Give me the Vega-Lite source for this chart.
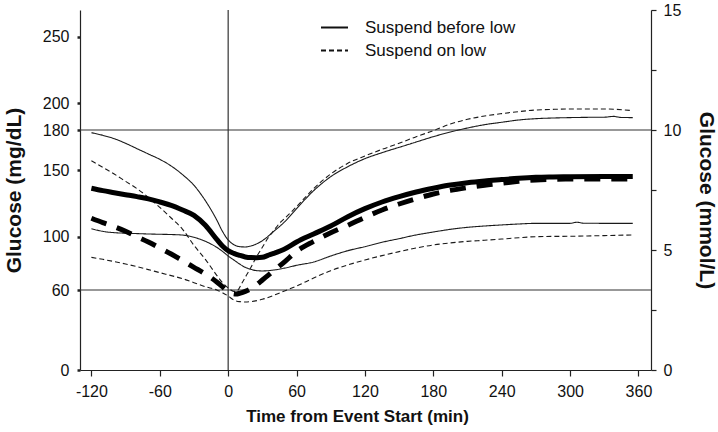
{
  "$schema": "https://vega.github.io/schema/vega-lite/v6.json",
  "width": 571,
  "height": 360,
  "autosize": {"type": "none"},
  "padding": {"left": 80, "top": 10, "right": 67, "bottom": 62},
  "background": "white",
  "config": {
    "font": "Liberation Sans",
    "view": {"stroke": null},
    "axis": {"grid": false, "domainColor": "#222", "tickColor": "#222", "labelColor": "#111", "titleColor": "#111", "labelFont": "Liberation Sans", "titleFont": "Liberation Sans", "domainWidth": 1.2}
  },
  "datasets": {
    "glu": [
      {"g": "Suspend before low", "s": "upper", "t": -120, "v": 178},
      {"g": "Suspend before low", "s": "upper", "t": -110, "v": 176},
      {"g": "Suspend before low", "s": "upper", "t": -100, "v": 173.5},
      {"g": "Suspend before low", "s": "upper", "t": -90, "v": 170},
      {"g": "Suspend before low", "s": "upper", "t": -80, "v": 166},
      {"g": "Suspend before low", "s": "upper", "t": -70, "v": 162},
      {"g": "Suspend before low", "s": "upper", "t": -60, "v": 158},
      {"g": "Suspend before low", "s": "upper", "t": -50, "v": 153},
      {"g": "Suspend before low", "s": "upper", "t": -40, "v": 146.5},
      {"g": "Suspend before low", "s": "upper", "t": -30, "v": 138.5},
      {"g": "Suspend before low", "s": "upper", "t": -20, "v": 127},
      {"g": "Suspend before low", "s": "upper", "t": -10, "v": 112.5},
      {"g": "Suspend before low", "s": "upper", "t": -5, "v": 104},
      {"g": "Suspend before low", "s": "upper", "t": 0, "v": 97.5},
      {"g": "Suspend before low", "s": "upper", "t": 5, "v": 94},
      {"g": "Suspend before low", "s": "upper", "t": 10, "v": 92.5},
      {"g": "Suspend before low", "s": "upper", "t": 15, "v": 92.3},
      {"g": "Suspend before low", "s": "upper", "t": 20, "v": 93},
      {"g": "Suspend before low", "s": "upper", "t": 30, "v": 97},
      {"g": "Suspend before low", "s": "upper", "t": 40, "v": 104},
      {"g": "Suspend before low", "s": "upper", "t": 50, "v": 111.5},
      {"g": "Suspend before low", "s": "upper", "t": 60, "v": 121},
      {"g": "Suspend before low", "s": "upper", "t": 75, "v": 134.5},
      {"g": "Suspend before low", "s": "upper", "t": 90, "v": 145},
      {"g": "Suspend before low", "s": "upper", "t": 105, "v": 152.5},
      {"g": "Suspend before low", "s": "upper", "t": 120, "v": 158.5},
      {"g": "Suspend before low", "s": "upper", "t": 135, "v": 163},
      {"g": "Suspend before low", "s": "upper", "t": 150, "v": 167},
      {"g": "Suspend before low", "s": "upper", "t": 165, "v": 171},
      {"g": "Suspend before low", "s": "upper", "t": 180, "v": 175},
      {"g": "Suspend before low", "s": "upper", "t": 195, "v": 178.5},
      {"g": "Suspend before low", "s": "upper", "t": 210, "v": 181.5},
      {"g": "Suspend before low", "s": "upper", "t": 225, "v": 184},
      {"g": "Suspend before low", "s": "upper", "t": 240, "v": 185.8},
      {"g": "Suspend before low", "s": "upper", "t": 255, "v": 187.5},
      {"g": "Suspend before low", "s": "upper", "t": 270, "v": 188.5},
      {"g": "Suspend before low", "s": "upper", "t": 285, "v": 189},
      {"g": "Suspend before low", "s": "upper", "t": 300, "v": 189.3},
      {"g": "Suspend before low", "s": "upper", "t": 315, "v": 189.5},
      {"g": "Suspend before low", "s": "upper", "t": 330, "v": 189.6},
      {"g": "Suspend before low", "s": "upper", "t": 338, "v": 190.2},
      {"g": "Suspend before low", "s": "upper", "t": 345, "v": 189.4},
      {"g": "Suspend before low", "s": "upper", "t": 355, "v": 189.3},

      {"g": "Suspend before low", "s": "lower", "t": -120, "v": 106},
      {"g": "Suspend before low", "s": "lower", "t": -110, "v": 104},
      {"g": "Suspend before low", "s": "lower", "t": -100, "v": 103},
      {"g": "Suspend before low", "s": "lower", "t": -90, "v": 102.6},
      {"g": "Suspend before low", "s": "lower", "t": -80, "v": 102.3},
      {"g": "Suspend before low", "s": "lower", "t": -70, "v": 102},
      {"g": "Suspend before low", "s": "lower", "t": -60, "v": 101.8},
      {"g": "Suspend before low", "s": "lower", "t": -50, "v": 101.6},
      {"g": "Suspend before low", "s": "lower", "t": -40, "v": 101.2},
      {"g": "Suspend before low", "s": "lower", "t": -30, "v": 99.5},
      {"g": "Suspend before low", "s": "lower", "t": -20, "v": 96.5},
      {"g": "Suspend before low", "s": "lower", "t": -10, "v": 92},
      {"g": "Suspend before low", "s": "lower", "t": -5, "v": 89},
      {"g": "Suspend before low", "s": "lower", "t": 0, "v": 85.5},
      {"g": "Suspend before low", "s": "lower", "t": 5, "v": 82.5},
      {"g": "Suspend before low", "s": "lower", "t": 10, "v": 79.5},
      {"g": "Suspend before low", "s": "lower", "t": 15, "v": 77},
      {"g": "Suspend before low", "s": "lower", "t": 20, "v": 75.5},
      {"g": "Suspend before low", "s": "lower", "t": 25, "v": 74.5},
      {"g": "Suspend before low", "s": "lower", "t": 30, "v": 74.3},
      {"g": "Suspend before low", "s": "lower", "t": 40, "v": 75},
      {"g": "Suspend before low", "s": "lower", "t": 50, "v": 76.5},
      {"g": "Suspend before low", "s": "lower", "t": 60, "v": 78.5},
      {"g": "Suspend before low", "s": "lower", "t": 75, "v": 81},
      {"g": "Suspend before low", "s": "lower", "t": 90, "v": 85.5},
      {"g": "Suspend before low", "s": "lower", "t": 105, "v": 89.5},
      {"g": "Suspend before low", "s": "lower", "t": 120, "v": 92.5},
      {"g": "Suspend before low", "s": "lower", "t": 135, "v": 95.8},
      {"g": "Suspend before low", "s": "lower", "t": 150, "v": 98.5},
      {"g": "Suspend before low", "s": "lower", "t": 165, "v": 101.3},
      {"g": "Suspend before low", "s": "lower", "t": 180, "v": 103.5},
      {"g": "Suspend before low", "s": "lower", "t": 195, "v": 105.5},
      {"g": "Suspend before low", "s": "lower", "t": 210, "v": 107},
      {"g": "Suspend before low", "s": "lower", "t": 225, "v": 108},
      {"g": "Suspend before low", "s": "lower", "t": 240, "v": 108.8},
      {"g": "Suspend before low", "s": "lower", "t": 255, "v": 109.5},
      {"g": "Suspend before low", "s": "lower", "t": 270, "v": 110},
      {"g": "Suspend before low", "s": "lower", "t": 285, "v": 110},
      {"g": "Suspend before low", "s": "lower", "t": 300, "v": 110},
      {"g": "Suspend before low", "s": "lower", "t": 306, "v": 110.8},
      {"g": "Suspend before low", "s": "lower", "t": 312, "v": 110.1},
      {"g": "Suspend before low", "s": "lower", "t": 330, "v": 110},
      {"g": "Suspend before low", "s": "lower", "t": 355, "v": 110},

      {"g": "Suspend before low", "s": "mean", "t": -120, "v": 136.3},
      {"g": "Suspend before low", "s": "mean", "t": -110, "v": 134.5},
      {"g": "Suspend before low", "s": "mean", "t": -100, "v": 133},
      {"g": "Suspend before low", "s": "mean", "t": -90, "v": 131.5},
      {"g": "Suspend before low", "s": "mean", "t": -80, "v": 130},
      {"g": "Suspend before low", "s": "mean", "t": -70, "v": 128.3},
      {"g": "Suspend before low", "s": "mean", "t": -60, "v": 126},
      {"g": "Suspend before low", "s": "mean", "t": -50, "v": 123.5},
      {"g": "Suspend before low", "s": "mean", "t": -40, "v": 120},
      {"g": "Suspend before low", "s": "mean", "t": -30, "v": 116},
      {"g": "Suspend before low", "s": "mean", "t": -20, "v": 108.5},
      {"g": "Suspend before low", "s": "mean", "t": -10, "v": 98},
      {"g": "Suspend before low", "s": "mean", "t": -5, "v": 93},
      {"g": "Suspend before low", "s": "mean", "t": 0, "v": 89.5},
      {"g": "Suspend before low", "s": "mean", "t": 5, "v": 87.5},
      {"g": "Suspend before low", "s": "mean", "t": 10, "v": 86},
      {"g": "Suspend before low", "s": "mean", "t": 15, "v": 84.8},
      {"g": "Suspend before low", "s": "mean", "t": 20, "v": 84.3},
      {"g": "Suspend before low", "s": "mean", "t": 25, "v": 84.2},
      {"g": "Suspend before low", "s": "mean", "t": 30, "v": 84.5},
      {"g": "Suspend before low", "s": "mean", "t": 35, "v": 86},
      {"g": "Suspend before low", "s": "mean", "t": 40, "v": 87.5},
      {"g": "Suspend before low", "s": "mean", "t": 50, "v": 91},
      {"g": "Suspend before low", "s": "mean", "t": 60, "v": 96},
      {"g": "Suspend before low", "s": "mean", "t": 75, "v": 102},
      {"g": "Suspend before low", "s": "mean", "t": 90, "v": 108},
      {"g": "Suspend before low", "s": "mean", "t": 105, "v": 115},
      {"g": "Suspend before low", "s": "mean", "t": 120, "v": 121},
      {"g": "Suspend before low", "s": "mean", "t": 135, "v": 126},
      {"g": "Suspend before low", "s": "mean", "t": 150, "v": 130},
      {"g": "Suspend before low", "s": "mean", "t": 165, "v": 133.5},
      {"g": "Suspend before low", "s": "mean", "t": 180, "v": 136.3},
      {"g": "Suspend before low", "s": "mean", "t": 195, "v": 138.7},
      {"g": "Suspend before low", "s": "mean", "t": 210, "v": 140.5},
      {"g": "Suspend before low", "s": "mean", "t": 225, "v": 141.8},
      {"g": "Suspend before low", "s": "mean", "t": 240, "v": 142.8},
      {"g": "Suspend before low", "s": "mean", "t": 255, "v": 143.8},
      {"g": "Suspend before low", "s": "mean", "t": 270, "v": 144.5},
      {"g": "Suspend before low", "s": "mean", "t": 285, "v": 144.8},
      {"g": "Suspend before low", "s": "mean", "t": 300, "v": 145},
      {"g": "Suspend before low", "s": "mean", "t": 330, "v": 145.2},
      {"g": "Suspend before low", "s": "mean", "t": 355, "v": 145.2},

      {"g": "Suspend on low", "s": "upper", "t": -120, "v": 157},
      {"g": "Suspend on low", "s": "upper", "t": -110, "v": 152},
      {"g": "Suspend on low", "s": "upper", "t": -100, "v": 147},
      {"g": "Suspend on low", "s": "upper", "t": -90, "v": 141.5},
      {"g": "Suspend on low", "s": "upper", "t": -80, "v": 136},
      {"g": "Suspend on low", "s": "upper", "t": -70, "v": 129.5},
      {"g": "Suspend on low", "s": "upper", "t": -60, "v": 122},
      {"g": "Suspend on low", "s": "upper", "t": -50, "v": 114},
      {"g": "Suspend on low", "s": "upper", "t": -40, "v": 105.5},
      {"g": "Suspend on low", "s": "upper", "t": -30, "v": 93.5},
      {"g": "Suspend on low", "s": "upper", "t": -20, "v": 83},
      {"g": "Suspend on low", "s": "upper", "t": -10, "v": 71},
      {"g": "Suspend on low", "s": "upper", "t": -5, "v": 65.5},
      {"g": "Suspend on low", "s": "upper", "t": 0, "v": 61.5},
      {"g": "Suspend on low", "s": "upper", "t": 5, "v": 59},
      {"g": "Suspend on low", "s": "upper", "t": 8, "v": 59.5},
      {"g": "Suspend on low", "s": "upper", "t": 12, "v": 65},
      {"g": "Suspend on low", "s": "upper", "t": 16, "v": 71},
      {"g": "Suspend on low", "s": "upper", "t": 20, "v": 77},
      {"g": "Suspend on low", "s": "upper", "t": 25, "v": 85},
      {"g": "Suspend on low", "s": "upper", "t": 30, "v": 92},
      {"g": "Suspend on low", "s": "upper", "t": 35, "v": 99},
      {"g": "Suspend on low", "s": "upper", "t": 40, "v": 104.5},
      {"g": "Suspend on low", "s": "upper", "t": 45, "v": 110},
      {"g": "Suspend on low", "s": "upper", "t": 50, "v": 114},
      {"g": "Suspend on low", "s": "upper", "t": 60, "v": 122.5},
      {"g": "Suspend on low", "s": "upper", "t": 75, "v": 136},
      {"g": "Suspend on low", "s": "upper", "t": 90, "v": 147},
      {"g": "Suspend on low", "s": "upper", "t": 105, "v": 155},
      {"g": "Suspend on low", "s": "upper", "t": 120, "v": 160.5},
      {"g": "Suspend on low", "s": "upper", "t": 135, "v": 165.5},
      {"g": "Suspend on low", "s": "upper", "t": 150, "v": 170},
      {"g": "Suspend on low", "s": "upper", "t": 165, "v": 175},
      {"g": "Suspend on low", "s": "upper", "t": 180, "v": 179.5},
      {"g": "Suspend on low", "s": "upper", "t": 195, "v": 184.5},
      {"g": "Suspend on low", "s": "upper", "t": 210, "v": 188},
      {"g": "Suspend on low", "s": "upper", "t": 225, "v": 190.5},
      {"g": "Suspend on low", "s": "upper", "t": 240, "v": 192.3},
      {"g": "Suspend on low", "s": "upper", "t": 255, "v": 193.8},
      {"g": "Suspend on low", "s": "upper", "t": 270, "v": 195},
      {"g": "Suspend on low", "s": "upper", "t": 285, "v": 195.5},
      {"g": "Suspend on low", "s": "upper", "t": 300, "v": 195.8},
      {"g": "Suspend on low", "s": "upper", "t": 330, "v": 195.8},
      {"g": "Suspend on low", "s": "upper", "t": 355, "v": 194.5},

      {"g": "Suspend on low", "s": "lower", "t": -120, "v": 84.5},
      {"g": "Suspend on low", "s": "lower", "t": -110, "v": 83},
      {"g": "Suspend on low", "s": "lower", "t": -100, "v": 81.3},
      {"g": "Suspend on low", "s": "lower", "t": -90, "v": 79.5},
      {"g": "Suspend on low", "s": "lower", "t": -80, "v": 77.5},
      {"g": "Suspend on low", "s": "lower", "t": -70, "v": 75.3},
      {"g": "Suspend on low", "s": "lower", "t": -60, "v": 73},
      {"g": "Suspend on low", "s": "lower", "t": -50, "v": 70.8},
      {"g": "Suspend on low", "s": "lower", "t": -40, "v": 68.5},
      {"g": "Suspend on low", "s": "lower", "t": -30, "v": 65.5},
      {"g": "Suspend on low", "s": "lower", "t": -20, "v": 62.5},
      {"g": "Suspend on low", "s": "lower", "t": -10, "v": 60},
      {"g": "Suspend on low", "s": "lower", "t": -5, "v": 58},
      {"g": "Suspend on low", "s": "lower", "t": 0, "v": 55.5},
      {"g": "Suspend on low", "s": "lower", "t": 5, "v": 52.5},
      {"g": "Suspend on low", "s": "lower", "t": 10, "v": 51.3},
      {"g": "Suspend on low", "s": "lower", "t": 15, "v": 51},
      {"g": "Suspend on low", "s": "lower", "t": 20, "v": 51.3},
      {"g": "Suspend on low", "s": "lower", "t": 30, "v": 53},
      {"g": "Suspend on low", "s": "lower", "t": 40, "v": 56},
      {"g": "Suspend on low", "s": "lower", "t": 50, "v": 59.5},
      {"g": "Suspend on low", "s": "lower", "t": 60, "v": 63},
      {"g": "Suspend on low", "s": "lower", "t": 75, "v": 69},
      {"g": "Suspend on low", "s": "lower", "t": 90, "v": 74.5},
      {"g": "Suspend on low", "s": "lower", "t": 105, "v": 78.8},
      {"g": "Suspend on low", "s": "lower", "t": 120, "v": 82.5},
      {"g": "Suspend on low", "s": "lower", "t": 135, "v": 85.8},
      {"g": "Suspend on low", "s": "lower", "t": 150, "v": 88.8},
      {"g": "Suspend on low", "s": "lower", "t": 165, "v": 91.5},
      {"g": "Suspend on low", "s": "lower", "t": 180, "v": 93.8},
      {"g": "Suspend on low", "s": "lower", "t": 195, "v": 95.3},
      {"g": "Suspend on low", "s": "lower", "t": 210, "v": 96.5},
      {"g": "Suspend on low", "s": "lower", "t": 225, "v": 97.3},
      {"g": "Suspend on low", "s": "lower", "t": 240, "v": 98.2},
      {"g": "Suspend on low", "s": "lower", "t": 255, "v": 99.2},
      {"g": "Suspend on low", "s": "lower", "t": 270, "v": 100},
      {"g": "Suspend on low", "s": "lower", "t": 285, "v": 100.2},
      {"g": "Suspend on low", "s": "lower", "t": 300, "v": 100.3},
      {"g": "Suspend on low", "s": "lower", "t": 330, "v": 100.8},
      {"g": "Suspend on low", "s": "lower", "t": 355, "v": 101.3},

      {"g": "Suspend on low", "s": "mean", "t": -120, "v": 113.8},
      {"g": "Suspend on low", "s": "mean", "t": -110, "v": 110.5},
      {"g": "Suspend on low", "s": "mean", "t": -100, "v": 107.5},
      {"g": "Suspend on low", "s": "mean", "t": -90, "v": 104},
      {"g": "Suspend on low", "s": "mean", "t": -80, "v": 100},
      {"g": "Suspend on low", "s": "mean", "t": -70, "v": 96},
      {"g": "Suspend on low", "s": "mean", "t": -60, "v": 91.5},
      {"g": "Suspend on low", "s": "mean", "t": -50, "v": 87},
      {"g": "Suspend on low", "s": "mean", "t": -40, "v": 82},
      {"g": "Suspend on low", "s": "mean", "t": -30, "v": 77},
      {"g": "Suspend on low", "s": "mean", "t": -20, "v": 72},
      {"g": "Suspend on low", "s": "mean", "t": -10, "v": 66},
      {"g": "Suspend on low", "s": "mean", "t": -5, "v": 62.5},
      {"g": "Suspend on low", "s": "mean", "t": 0, "v": 59},
      {"g": "Suspend on low", "s": "mean", "t": 3, "v": 57.5},
      {"g": "Suspend on low", "s": "mean", "t": 7, "v": 57},
      {"g": "Suspend on low", "s": "mean", "t": 10, "v": 57.5},
      {"g": "Suspend on low", "s": "mean", "t": 15, "v": 59},
      {"g": "Suspend on low", "s": "mean", "t": 20, "v": 61},
      {"g": "Suspend on low", "s": "mean", "t": 25, "v": 64},
      {"g": "Suspend on low", "s": "mean", "t": 30, "v": 67.5},
      {"g": "Suspend on low", "s": "mean", "t": 35, "v": 71},
      {"g": "Suspend on low", "s": "mean", "t": 40, "v": 74.5},
      {"g": "Suspend on low", "s": "mean", "t": 50, "v": 81.5},
      {"g": "Suspend on low", "s": "mean", "t": 60, "v": 89},
      {"g": "Suspend on low", "s": "mean", "t": 75, "v": 96.5},
      {"g": "Suspend on low", "s": "mean", "t": 90, "v": 103},
      {"g": "Suspend on low", "s": "mean", "t": 105, "v": 108.5},
      {"g": "Suspend on low", "s": "mean", "t": 120, "v": 114.5},
      {"g": "Suspend on low", "s": "mean", "t": 135, "v": 120},
      {"g": "Suspend on low", "s": "mean", "t": 150, "v": 124.5},
      {"g": "Suspend on low", "s": "mean", "t": 165, "v": 128.5},
      {"g": "Suspend on low", "s": "mean", "t": 180, "v": 132},
      {"g": "Suspend on low", "s": "mean", "t": 195, "v": 134.7},
      {"g": "Suspend on low", "s": "mean", "t": 210, "v": 136.8},
      {"g": "Suspend on low", "s": "mean", "t": 225, "v": 138.6},
      {"g": "Suspend on low", "s": "mean", "t": 240, "v": 140},
      {"g": "Suspend on low", "s": "mean", "t": 255, "v": 141.5},
      {"g": "Suspend on low", "s": "mean", "t": 270, "v": 142.5},
      {"g": "Suspend on low", "s": "mean", "t": 285, "v": 143},
      {"g": "Suspend on low", "s": "mean", "t": 300, "v": 143.2},
      {"g": "Suspend on low", "s": "mean", "t": 330, "v": 143.3},
      {"g": "Suspend on low", "s": "mean", "t": 355, "v": 143.3}
    ]
  },
  "layer": [
    {
      "layer": [
        {
          "data": {"values": [{"event": 0}]},
          "mark": {"type": "rule", "color": "#333", "strokeWidth": 1.2},
          "encoding": {"x": {"field": "event", "type": "quantitative"}}
        },
        {
          "data": {"values": [{"low": 60}]},
          "mark": {"type": "rule", "color": "#333", "strokeWidth": 1.2},
          "encoding": {"y": {"field": "low", "type": "quantitative"}}
        },
        {
          "data": {"name": "glu"},
          "transform": [{"filter": "datum.s !== 'mean'"}],
          "mark": {"type": "line", "interpolate": "monotone", "strokeWidth": 1.1, "color": "#1a1a1a"},
          "encoding": {
            "x": {
              "field": "t", "type": "quantitative",
              "scale": {"domain": [-130, 371], "nice": false, "zero": false},
              "axis": {
                "values": [-120, -60, 0, 60, 120, 180, 240, 300, 360],
                "labelExpr": "'' + datum.value",
                "tickSize": 6, "tickWidth": 1.2, "labelFontSize": 16, "labelPadding": 7,
                "title": "Time from Event Start (min)", "titleFontSize": 17, "titleFontWeight": "bold",
                "titleX": 277, "titleY": 38
              }
            },
            "y": {
              "field": "v", "type": "quantitative",
              "scale": {"domain": [0, 270], "nice": false},
              "axis": {
                "orient": "left",
                "values": [0, 60, 100, 150, 180, 200, 250],
                "tickSize": 3, "tickWidth": 2.5, "labelFontSize": 16, "labelPadding": 8,
                "title": "Glucose (mg/dL)", "titleFontSize": 21, "titleFontWeight": "bold",
                "titleX": -56
              }
            },
            "detail": {"field": "s"},
            "strokeDash": {
              "field": "g", "type": "nominal",
              "scale": {"domain": ["Suspend before low", "Suspend on low"], "range": [[1, 0], [5, 3]]},
              "legend": {
                "title": null, "orient": "none", "legendX": 240, "legendY": 3,
                "symbolType": "stroke", "symbolSize": 729, "symbolStrokeWidth": 2, "symbolStrokeColor": "#111",
                "labelFontSize": 17, "labelOffset": 16, "rowPadding": 0, "labelColor": "#111"
              }
            }
          }
        },
        {
          "data": {"name": "glu"},
          "transform": [{"filter": "datum.s === 'mean' && datum.g === 'Suspend before low'"}],
          "mark": {"type": "line", "interpolate": "monotone", "strokeWidth": 5, "color": "#000"},
          "encoding": {
            "x": {"field": "t", "type": "quantitative"},
            "y": {"field": "v", "type": "quantitative"}
          }
        },
        {
          "data": {"name": "glu"},
          "transform": [{"filter": "datum.s === 'mean' && datum.g === 'Suspend on low'"}],
          "mark": {"type": "line", "interpolate": "monotone", "strokeWidth": 5, "color": "#000", "strokeDash": [16, 11], "strokeCap": "butt"},
          "encoding": {
            "x": {"field": "t", "type": "quantitative"},
            "y": {"field": "v", "type": "quantitative"}
          }
        }
      ]
    },
    {
      "data": {"values": [{"mmol": 10}]},
      "mark": {"type": "rule", "color": "#333", "strokeWidth": 1.2},
      "encoding": {
        "y": {
          "field": "mmol", "type": "quantitative",
          "scale": {"domain": [0, 15], "nice": false},
          "axis": {
            "orient": "right",
            "values": [0, 2.5, 5, 7.5, 10, 12.5, 15],
            "labelExpr": "datum.value % 5 === 0 ? datum.label : ''",
            "tickSize": 5, "tickWidth": 1.2, "labelFontSize": 16, "labelPadding": 7,
            "title": "Glucose (mmol/L)", "titleFontSize": 21, "titleFontWeight": "bold",
            "titleX": 44, "titleY": 190
          }
        }
      }
    }
  ],
  "resolve": {"scale": {"y": "independent"}, "axis": {"y": "independent"}}
}
